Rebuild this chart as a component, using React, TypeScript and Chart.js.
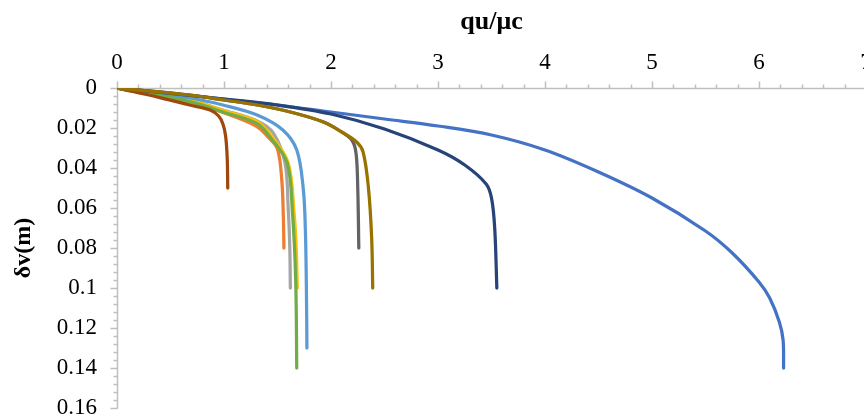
import React, { useEffect, useRef } from "react";
import { Chart, registerables } from "chart.js";

Chart.register(...registerables);

// ---- Data (qu/μc on x, δv(m) on y) ----
const X_MIN = 0;
const X_MAX = 7;
const Y_MIN = 0;
const Y_MAX = 0.16;
const X_MINOR = 0.2;
const Y_MINOR = 0.004;
const Y_MAJOR = 0.02;

const SERIES_NAMES = ["S1", "S2", "S3", "S4", "S5", "S6", "S7", "S8", "S9", "S10"];
const SERIES_COLORS = ["#4472C4", "#ED7D31", "#A5A5A5", "#FFC000", "#5B9BD5", "#70AD47", "#264478", "#9E480E", "#636363", "#997300"];

const S1_X = [0, 1.0, 1.5, 2.0, 2.5, 3.0, 3.5, 4.0, 4.5, 5.0, 5.5, 5.75, 6.0, 6.1, 6.19, 6.225, 6.23];
const S1_Y = [0, 0.0055, 0.0085, 0.012, 0.0155, 0.019, 0.0235, 0.031, 0.042, 0.055, 0.0715, 0.0825, 0.097, 0.105, 0.117, 0.126, 0.14];

const S2_X = [0, 0.68, 0.99, 1.3, 1.42, 1.5, 1.54, 1.555, 1.56];
const S2_Y = [0, 0.007, 0.0122, 0.019, 0.025, 0.0305, 0.046, 0.065, 0.08];

const S3_X = [0, 0.68, 0.99, 1.31, 1.46, 1.57, 1.6, 1.615, 1.62];
const S3_Y = [0, 0.006, 0.011, 0.0165, 0.0225, 0.0375, 0.06, 0.08, 0.1];

const S4_X = [0, 0.68, 0.99, 1.31, 1.45, 1.6, 1.655, 1.675, 1.685];
const S4_Y = [0, 0.0062, 0.0113, 0.0168, 0.0245, 0.0375, 0.0625, 0.08, 0.1];

const S5_X = [0, 0.68, 0.99, 1.31, 1.55, 1.68, 1.74, 1.76, 1.77, 1.775];
const S5_Y = [0, 0.005, 0.0085, 0.0135, 0.021, 0.031, 0.05, 0.07, 0.1, 0.13];

const S6_X = [0, 0.68, 0.99, 1.31, 1.43, 1.59, 1.64, 1.67, 1.68];
const S6_Y = [0, 0.0068, 0.012, 0.0178, 0.0245, 0.0375, 0.0625, 0.096, 0.14];

const S7_X = [0, 1.0, 1.5, 2.0, 2.5, 3.0, 3.25, 3.45, 3.5, 3.53, 3.55];
const S7_Y = [0, 0.0055, 0.0085, 0.013, 0.0205, 0.031, 0.0385, 0.048, 0.055, 0.07, 0.1];

const S8_X = [0, 0.4, 0.68, 0.87, 0.95, 0.99, 1.015, 1.03, 1.035];
const S8_Y = [0, 0.0048, 0.0085, 0.011, 0.014, 0.018, 0.024, 0.035, 0.05];

const S9_X = [0, 0.68, 1.0, 1.31, 1.62, 1.93, 2.1, 2.2, 2.235, 2.25, 2.26];
const S9_Y = [0, 0.0035, 0.006, 0.0085, 0.012, 0.017, 0.022, 0.0265, 0.033, 0.05, 0.08];

const S10_X = [0, 0.68, 1.0, 1.31, 1.62, 1.93, 2.1, 2.24, 2.3, 2.35, 2.38, 2.39];
const S10_Y = [0, 0.0035, 0.006, 0.0085, 0.012, 0.017, 0.022, 0.027, 0.032, 0.05, 0.075, 0.1];

const SERIES_X = [S1_X, S2_X, S3_X, S4_X, S5_X, S6_X, S7_X, S8_X, S9_X, S10_X];
const SERIES_Y = [S1_Y, S2_Y, S3_Y, S4_Y, S5_Y, S6_Y, S7_Y, S8_Y, S9_Y, S10_Y];

const X_TITLE = "qu/μc";
const Y_TITLE = "δv(m)";

const FONT_FAMILY = "'Liberation Serif', 'Times New Roman', serif";

const axisPlugin = {
  id: "excelAxes",
  beforeDatasetsDraw(chart: any) {
    const { ctx } = chart;
    const xs = chart.scales.x;
    const ys = chart.scales.y;
    const x0 = Math.round(xs.getPixelForValue(X_MIN)) + 0.5;
    const y0 = Math.round(ys.getPixelForValue(Y_MIN)) + 0.5;
    const xEnd = xs.getPixelForValue(X_MAX);
    const yEnd = Math.round(ys.getPixelForValue(Y_MAX)) + 0.5;
    ctx.save();
    ctx.strokeStyle = "#BFBFBF";
    ctx.lineWidth = 1.5;
    ctx.beginPath();
    ctx.moveTo(x0, y0);
    ctx.lineTo(xEnd + 4, y0);
    ctx.moveTo(x0, y0);
    ctx.lineTo(x0, yEnd);
    const nx = Math.round((X_MAX - X_MIN) / X_MINOR);
    for (let i = 0; i <= nx; i++) {
      const v = X_MIN + i * X_MINOR;
      const px = Math.round(xs.getPixelForValue(v)) + 0.5;
      const len = i % 5 === 0 ? 7 : 4;
      ctx.moveTo(px, y0);
      ctx.lineTo(px, y0 - len);
    }
    const ny = Math.round((Y_MAX - Y_MIN) / Y_MINOR);
    const per = Math.round(Y_MAJOR / Y_MINOR);
    for (let i = 0; i <= ny; i++) {
      const v = Y_MIN + i * Y_MINOR;
      const py = Math.round(ys.getPixelForValue(v)) + 0.5;
      const len = i % per === 0 ? 7 : 4;
      ctx.moveTo(x0, py);
      ctx.lineTo(x0 - len, py);
    }
    ctx.stroke();
    ctx.restore();
  },
};

function clearPadding(scale: any) {
  scale.paddingTop = 0;
  scale.paddingBottom = 0;
  scale.paddingLeft = 0;
  scale.paddingRight = 0;
}

export default function App() {
  const canvasRef = useRef<HTMLCanvasElement | null>(null);

  useEffect(() => {
    if (!canvasRef.current) return;
    const n = SERIES_NAMES.length;
    const datasets = SERIES_NAMES.map((name, i) => ({
      label: name,
      data: SERIES_X[i].map((x, j) => ({ x, y: SERIES_Y[i][j] })),
      borderColor: SERIES_COLORS[i],
      backgroundColor: SERIES_COLORS[i],
      borderWidth: 3.25,
      borderCapStyle: "round" as const,
      borderJoinStyle: "round" as const,
      pointRadius: 0,
      pointHoverRadius: 0,
      showLine: true,
      fill: false,
      tension: 0.35,
      order: n - i,
    }));

    const chart = new Chart(canvasRef.current, {
      type: "scatter",
      data: { datasets },
      plugins: [axisPlugin],
      options: {
        animation: false,
        responsive: false,
        maintainAspectRatio: false,
        layout: { padding: { left: 0, top: 0, right: 14, bottom: 8 } },
        plugins: {
          legend: { display: false },
          tooltip: { enabled: false },
        },
        scales: {
          x: {
            type: "linear",
            position: "top",
            min: X_MIN,
            max: X_MAX,
            afterFit: (scale: any) => {
              scale.height = 88;
              clearPadding(scale);
            },
            grid: { display: false, drawTicks: false },
            border: { display: false },
            ticks: {
              stepSize: 1,
              padding: 11,
              color: "#000000",
              font: { family: FONT_FAMILY, size: 23 },
              maxRotation: 0,
            },
            title: {
              display: true,
              text: X_TITLE,
              color: "#000000",
              font: { family: FONT_FAMILY, size: 26, weight: "bold" },
              padding: { top: 7, bottom: 0 },
            },
          },
          y: {
            type: "linear",
            reverse: true,
            min: Y_MIN,
            max: Y_MAX,
            afterFit: (scale: any) => {
              scale.width = 117;
              clearPadding(scale);
            },
            grid: { display: false, drawTicks: false },
            border: { display: false },
            ticks: {
              stepSize: Y_MAJOR,
              padding: 20,
              color: "#000000",
              font: { family: FONT_FAMILY, size: 23 },
              callback: (v: any) => String(Number(Number(v).toFixed(2))),
            },
            title: {
              display: true,
              text: Y_TITLE,
              color: "#000000",
              font: { family: FONT_FAMILY, size: 24, weight: "bold" },
              padding: { top: 9, bottom: 0 },
            },
          },
        },
      },
    });
    return () => chart.destroy();
  }, []);

  return (
    <div style={{ position: "fixed", left: 0, top: 0, width: 880, height: 416, background: "#fff" }}>
      <canvas ref={canvasRef} width={880} height={416} style={{ display: "block" }} />
    </div>
  );
}
